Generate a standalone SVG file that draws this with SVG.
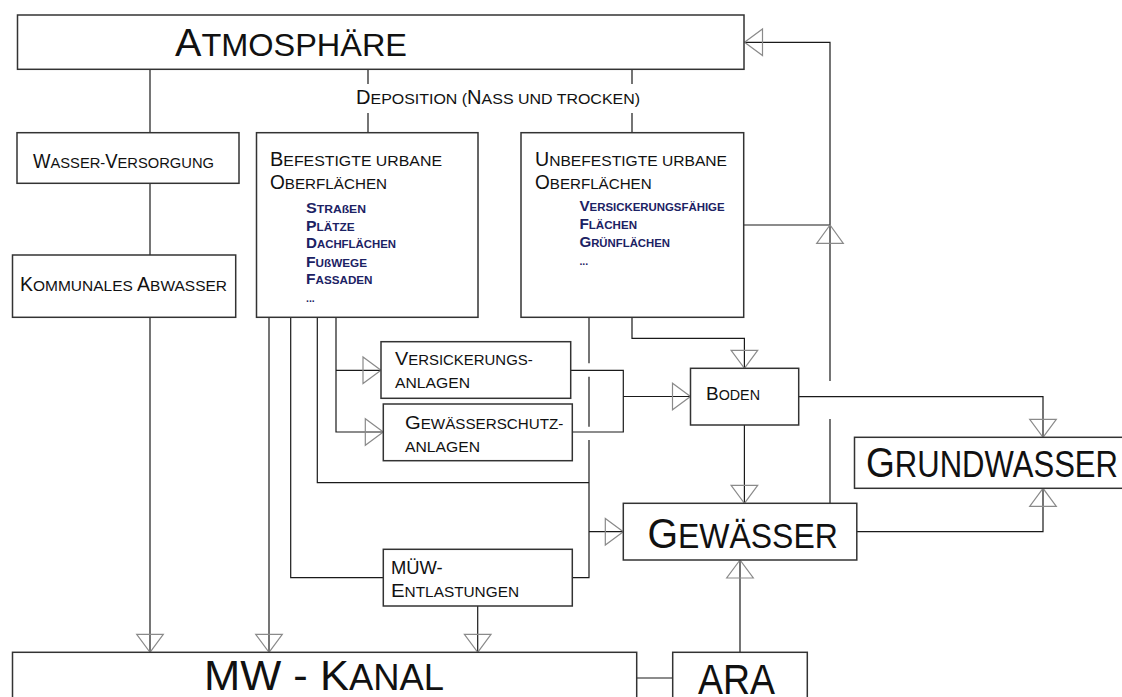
<svg xmlns="http://www.w3.org/2000/svg" width="1122" height="697" viewBox="0 0 1122 697">
<style>
.box{fill:#fff;stroke:#333;stroke-width:1.5}
.ln{fill:none;stroke:#1a1a1a;stroke-width:1.2}
.ar{fill:none;stroke:#8a8a8a;stroke-width:1.2}
.t{font-family:"Liberation Sans",Arial,sans-serif;fill:#111}
.xl{font-size:32px}
.XL{font-size:39px}
.m{font-size:15.5px}
.M{font-size:19.5px}
.s{font-family:"Liberation Sans",Arial,sans-serif;font-weight:bold;fill:#1c2264;font-size:10.5px}
.S{font-size:14px}
.h{font-size:36px}
.H{font-size:43px}
</style>
<defs>
<marker id="tri" viewBox="-20 -15 22 30" refX="0" refY="0" markerWidth="22" markerHeight="30" markerUnits="userSpaceOnUse" orient="auto" overflow="visible">
<path class="ar" d="M0,0 L-18,-13.3 L-18,13.3 Z"/>
</marker>
</defs>

<g id="connectors">
<path class="ln" d="M150,69.3 V132.7"/>
<path class="ln" d="M150,183.3 V255"/>
<path class="ln" d="M150,317.3 V652.3" marker-end="url(#tri)"/>
<path class="ln" d="M368,69.3 V84 M368,113 V132.7"/>
<path class="ln" d="M632,69.3 V84 M632,113 V132.7"/>
<path class="ln" d="M830,503.3 V419 M830,381 V42.3 H744.5" marker-end="url(#tri)"/>
<path class="ln" d="M744,225 H830"/>
<path class="ar" d="M830,225 L816.7,243.3 L843.3,243.3 Z"/>
<path class="ln" d="M269,317.3 V652.3" marker-end="url(#tri)"/>
<path class="ln" d="M290.7,317.3 V577.7 H383.3"/>
<path class="ln" d="M317.3,317.3 V482.7 H589"/>
<path class="ln" d="M336,317.3 V432 H383.3" marker-end="url(#tri)"/>
<path class="ln" d="M336,370.3 H381" marker-end="url(#tri)"/>
<path class="ln" d="M589,317.3 V363.3 M589,376.7 V426.7 M589,440 V577.7 H572.3"/>
<path class="ln" d="M589,531.7 H623.3" marker-end="url(#tri)"/>
<path class="ln" d="M632,317.3 V338.3 H744.4 V368.3" marker-end="url(#tri)"/>
<path class="ln" d="M570.7,370.3 H623.3 V432 H572.3"/>
<path class="ln" d="M623.3,396.5 H690.5" marker-end="url(#tri)"/>
<path class="ln" d="M744.4,425 V503.3" marker-end="url(#tri)"/>
<path class="ln" d="M798.7,396.7 H1043 V437.3" marker-end="url(#tri)"/>
<path class="ln" d="M856.8,531.7 H1043 V488.3" marker-end="url(#tri)"/>
<path class="ln" d="M740,652.3 V560" marker-end="url(#tri)"/>
<path class="ln" d="M636.7,678 H672.7"/>
<path class="ln" d="M477.7,606 V652.3" marker-end="url(#tri)"/>
</g>

<g id="atmosphaere">
<rect class="box" x="17.5" y="15" width="726.5" height="54.3"/>
<text class="t xl" x="175" y="56" textLength="232" lengthAdjust="spacingAndGlyphs"><tspan class="XL">A</tspan>TMOSPHÄRE</text>
</g>

<g id="deposition">
<text class="t m" x="356" y="104.3" textLength="284" lengthAdjust="spacingAndGlyphs"><tspan class="M">D</tspan>EPOSITION (<tspan class="M">N</tspan>ASS UND TROCKEN)</text>
</g>

<g id="wasserversorgung">
<rect class="box" x="17" y="132.7" width="222" height="50.6"/>
<text class="t m" x="33" y="167.7" textLength="181" lengthAdjust="spacingAndGlyphs"><tspan class="M">W</tspan>ASSER-<tspan class="M">V</tspan>ERSORGUNG</text>
</g>

<g id="kommunales">
<rect class="box" x="12.5" y="255" width="223.2" height="62.3"/>
<text class="t m" x="20" y="291" textLength="207" lengthAdjust="spacingAndGlyphs"><tspan class="M">K</tspan>OMMUNALES <tspan class="M">A</tspan>BWASSER</text>
</g>

<g id="befestigte">
<rect class="box" x="256.5" y="132.7" width="221.5" height="184.6"/>
<text class="t m" x="270" y="165.7" textLength="172" lengthAdjust="spacingAndGlyphs"><tspan class="M">B</tspan>EFESTIGTE URBANE</text>
<text class="t m" x="270" y="189" textLength="117" lengthAdjust="spacingAndGlyphs"><tspan class="M">O</tspan>BERFLÄCHEN</text>
<text class="s" x="306" y="212.7" textLength="60" lengthAdjust="spacingAndGlyphs"><tspan class="S">S</tspan>TRAßEN</text>
<text class="s" x="306" y="230.7" textLength="48.6" lengthAdjust="spacingAndGlyphs"><tspan class="S">P</tspan>LÄTZE</text>
<text class="s" x="306" y="248.3" textLength="90" lengthAdjust="spacingAndGlyphs"><tspan class="S">D</tspan>ACHFLÄCHEN</text>
<text class="s" x="306" y="266.7" textLength="61" lengthAdjust="spacingAndGlyphs"><tspan class="S">F</tspan>UßWEGE</text>
<text class="s" x="306" y="284" textLength="66.5" lengthAdjust="spacingAndGlyphs"><tspan class="S">F</tspan>ASSADEN</text>
<text class="s" x="306" y="301.7">...</text>
</g>

<g id="unbefestigte">
<rect class="box" x="521" y="132.7" width="222.7" height="184.6"/>
<text class="t m" x="535" y="165.7" textLength="192" lengthAdjust="spacingAndGlyphs"><tspan class="M">U</tspan>NBEFESTIGTE URBANE</text>
<text class="t m" x="535" y="189" textLength="116.6" lengthAdjust="spacingAndGlyphs"><tspan class="M">O</tspan>BERFLÄCHEN</text>
<text class="s" x="579.4" y="210.7" textLength="145.2" lengthAdjust="spacingAndGlyphs"><tspan class="S">V</tspan>ERSICKERUNGSFÄHIGE</text>
<text class="s" x="579.4" y="228.7" textLength="57.6" lengthAdjust="spacingAndGlyphs"><tspan class="S">F</tspan>LÄCHEN</text>
<text class="s" x="579.4" y="246.7" textLength="90.6" lengthAdjust="spacingAndGlyphs"><tspan class="S">G</tspan>RÜNFLÄCHEN</text>
<text class="s" x="579.4" y="265">...</text>
</g>

<g id="versickerungsanlagen">
<rect class="box" x="381" y="341.7" width="189.7" height="56.6"/>
<text class="t" x="395" y="365" style="font-size:14px" textLength="137.7" lengthAdjust="spacingAndGlyphs"><tspan style="font-size:18.6px">V</tspan>ERSICKERUNGS-</text>
<text class="t" x="395" y="388.3" style="font-size:14px" textLength="75" lengthAdjust="spacingAndGlyphs">ANLAGEN</text>
</g>

<g id="gewaesserschutzanlagen">
<rect class="box" x="383.3" y="404" width="189" height="56.7"/>
<text class="t" x="405" y="429" style="font-size:14px" textLength="158.3" lengthAdjust="spacingAndGlyphs"><tspan style="font-size:18.6px">G</tspan>EWÄSSERSCHUTZ-</text>
<text class="t" x="405" y="451.7" style="font-size:14px" textLength="75" lengthAdjust="spacingAndGlyphs">ANLAGEN</text>
</g>

<g id="muew">
<rect class="box" x="383.3" y="549.3" width="189" height="56.7"/>
<text class="t" x="391" y="574.3" style="font-size:18px" textLength="51.7" lengthAdjust="spacingAndGlyphs">MÜW-</text>
<text class="t" x="391" y="597.3" style="font-size:14px" textLength="128" lengthAdjust="spacingAndGlyphs"><tspan style="font-size:18.6px">E</tspan>NTLASTUNGEN</text>
</g>

<g id="boden">
<rect class="box" x="690.5" y="368.3" width="108.2" height="56.7"/>
<text class="t" x="706" y="400" style="font-size:14px" textLength="54" lengthAdjust="spacingAndGlyphs"><tspan style="font-size:18.6px">B</tspan>ODEN</text>
</g>

<g id="gewaesser">
<rect class="box" x="623.3" y="503.3" width="233.5" height="56.7"/>
<text class="t h" x="647.5" y="548.3" style="font-size:35px" textLength="190.3" lengthAdjust="spacingAndGlyphs"><tspan class="H">G</tspan>EWÄSSER</text>
</g>

<g id="grundwasser">
<rect class="box" x="854.5" y="437.3" width="280" height="51"/>
<text class="t h" x="866" y="477.3" textLength="252" lengthAdjust="spacingAndGlyphs"><tspan class="H">G</tspan>RUNDWASSER</text>
</g>

<g id="mwkanal">
<rect class="box" x="12.5" y="652.3" width="624.2" height="70"/>
<text class="t h" x="204" y="690" textLength="240" lengthAdjust="spacingAndGlyphs"><tspan class="H">MW - K</tspan>ANAL</text>
</g>

<g id="ara">
<rect class="box" x="672.7" y="652.3" width="134.6" height="70"/>
<text class="t H" x="698" y="694" style="font-size:42px" textLength="77" lengthAdjust="spacingAndGlyphs">ARA</text>
</g>
</svg>
